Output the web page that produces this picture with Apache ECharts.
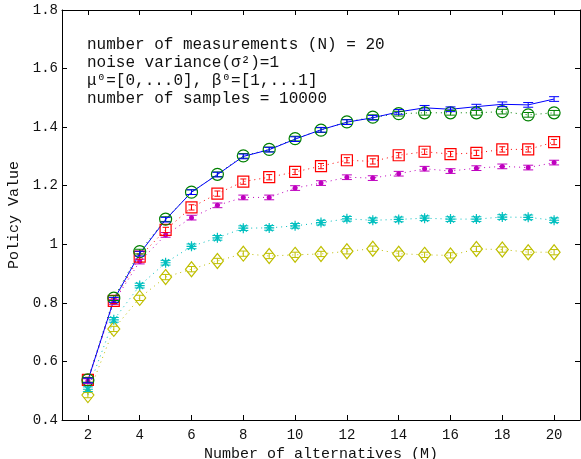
<!DOCTYPE html>
<html>
<head>
<meta charset="UTF-8">
<title>Policy Value</title>
<script src="https://cdn.jsdelivr.net/npm/echarts@6/dist/echarts.min.js"></script>
<style>
  html, body { margin: 0; padding: 0; background: #fff; }
  #main { width: 581px; height: 459px; }
</style>
</head>
<body>
<div id="main"></div>
<script type="text/javascript">
  // number of alternatives M
  var alternatives = [2, 3, 4, 5, 6, 7, 8, 9, 10, 11, 12, 13, 14, 15, 16, 17, 18, 19, 20];
  var xTicks = [2, 4, 6, 8, 10, 12, 14, 16, 18, 20];

  // policy values
  var blueVals    = [0.535, 0.810, 0.968, 1.084, 1.178, 1.238, 1.300, 1.323, 1.359, 1.391, 1.417, 1.432, 1.452, 1.466, 1.461, 1.470, 1.478, 1.476, 1.496];
  var greenVals   = [0.537, 0.816, 0.975, 1.086, 1.178, 1.239, 1.302, 1.324, 1.361, 1.390, 1.418, 1.434, 1.446, 1.449, 1.449, 1.449, 1.453, 1.442, 1.449];
  var redVals     = [0.537, 0.807, 0.958, 1.049, 1.126, 1.173, 1.214, 1.229, 1.247, 1.267, 1.287, 1.283, 1.304, 1.316, 1.308, 1.312, 1.324, 1.324, 1.349];
  var magentaVals = [0.533, 0.803, 0.941, 1.032, 1.091, 1.133, 1.160, 1.160, 1.192, 1.209, 1.229, 1.226, 1.241, 1.258, 1.250, 1.260, 1.266, 1.262, 1.279];
  var cyanVals    = [0.505, 0.742, 0.859, 0.937, 0.993, 1.022, 1.055, 1.056, 1.063, 1.074, 1.087, 1.082, 1.085, 1.089, 1.086, 1.086, 1.093, 1.092, 1.082];
  var yellowVals  = [0.485, 0.711, 0.817, 0.888, 0.915, 0.943, 0.968, 0.960, 0.964, 0.967, 0.976, 0.985, 0.968, 0.964, 0.962, 0.984, 0.982, 0.973, 0.973];

  // half widths of the error bars (roughly constant in the figure)
  var blueErr = 0.008, greenErr = 0.008, redErr = 0.009, magentaErr = 0.008, cyanErr = 0.008, yellowErr = 0.009;

  var infoLines = [
    'number of measurements (N) = 20',
    'noise variance(\u03c3\u00b2)=1',
    '\u03bc\u2070=[0,...0], \u03b2\u2070=[1,...1]',
    'number of samples = 10000'
  ];

  var FONT = '"Liberation Mono", "Courier New", monospace';

  function pairs(vals) {
    return alternatives.map(function (m, i) { return [m, vals[i]]; });
  }
  function errData(vals, e) {
    return alternatives.map(function (m, i) { return [m, vals[i], e]; });
  }

  function errorBars(vals, e, color, cap) {
    return {
      type: 'custom',
      silent: true,
      z: 3,
      data: errData(vals, e),
      renderItem: function (params, api) {
        var x = api.value(0), y = api.value(1), d = api.value(2);
        var hi = api.coord([x, y + d]);
        var lo = api.coord([x, y - d]);
        var st = { stroke: color, lineWidth: 1 };
        return {
          type: 'group',
          children: [
            { type: 'line', shape: { x1: hi[0], y1: hi[1], x2: lo[0], y2: lo[1] }, style: st },
            { type: 'line', shape: { x1: hi[0] - cap, y1: hi[1], x2: hi[0] + cap, y2: hi[1] }, style: st },
            { type: 'line', shape: { x1: lo[0] - cap, y1: lo[1], x2: lo[0] + cap, y2: lo[1] }, style: st }
          ]
        };
      }
    };
  }

  function markerLine(vals, color, symbol, size, filled, lineType) {
    return {
      type: 'line',
      data: pairs(vals),
      symbol: symbol,
      symbolSize: size,
      showAllSymbol: true,
      silent: true,
      z: 2,
      lineStyle: { color: color, width: 1, type: lineType },
      itemStyle: filled
        ? { color: color, borderWidth: 0 }
        : { color: 'transparent', borderColor: color, borderWidth: 1.2 }
    };
  }

  var starPath = 'path://M0,-5L0,5M-5,0L5,0M-3.5,-3.5L3.5,3.5M-3.5,3.5L3.5,-3.5';
  var dots = [1, 4];

  var chart = echarts.init(document.getElementById('main'));

  var option = {
    animation: false,
    backgroundColor: '#fff',
    textStyle: { fontFamily: FONT },
    grid: { left: 62, right: 1, top: 10, bottom: 39, containLabel: false, outerBoundsMode: 'none' },
    xAxis: [{
      type: 'value',
      min: 1, max: 21,
      name: 'Number of alternatives (M)',
      nameLocation: 'middle',
      nameGap: 21,
      nameTextStyle: { fontFamily: FONT, fontSize: 15, color: '#111' },
      axisLine: { show: true, onZero: false, lineStyle: { color: '#000', width: 1 } },
      axisTick: { show: true, inside: true, length: 5, customValues: xTicks, lineStyle: { color: '#000' } },
      axisLabel: { customValues: xTicks, fontFamily: FONT, fontSize: 14, color: '#111', margin: 8 },
      splitLine: { show: false }
    }, {
      type: 'value',
      position: 'top',
      min: 1, max: 21,
      axisLine: { show: true, onZero: false, lineStyle: { color: '#000', width: 1 } },
      axisTick: { show: true, inside: true, length: 5, customValues: xTicks, lineStyle: { color: '#000' } },
      axisLabel: { show: false },
      splitLine: { show: false }
    }],
    yAxis: [{
      type: 'value',
      min: 0.4, max: 1.8, interval: 0.2,
      name: 'Policy Value',
      nameLocation: 'middle',
      nameGap: 39,
      nameTextStyle: { fontFamily: FONT, fontSize: 15, color: '#111' },
      axisLine: { show: true, onZero: false, lineStyle: { color: '#000', width: 1 } },
      axisTick: { show: true, inside: true, length: 5, lineStyle: { color: '#000' } },
      axisLabel: { fontFamily: FONT, fontSize: 14, color: '#111', margin: 4 },
      splitLine: { show: false }
    }, {
      type: 'value',
      position: 'right',
      min: 0.4, max: 1.8, interval: 0.2,
      axisLine: { show: true, onZero: false, lineStyle: { color: '#000', width: 1 } },
      axisTick: { show: true, inside: true, length: 5, lineStyle: { color: '#000' } },
      axisLabel: { show: false },
      splitLine: { show: false }
    }],
    graphic: [{
      type: 'text',
      left: 87,
      top: 36,
      silent: true,
      style: {
        text: infoLines.join('\n'),
        font: '16px ' + FONT,
        fill: '#111',
        lineHeight: 18
      }
    }],
    series: [
      markerLine(yellowVals, '#bfbf00', 'diamond', [12, 15], false, dots),
      errorBars(yellowVals, yellowErr, '#bfbf00', 4),
      markerLine(cyanVals, '#00bfbf', starPath, 10, false, dots),
      errorBars(cyanVals, cyanErr, '#00bfbf', 5),
      markerLine(magentaVals, '#bf00bf', 'circle', 5, true, dots),
      errorBars(magentaVals, magentaErr, '#bf00bf', 5),
      markerLine(redVals, '#ff0000', 'rect', 11, false, dots),
      errorBars(redVals, redErr, '#ff0000', 3),
      markerLine(greenVals, '#008000', 'circle', 12, false, dots),
      errorBars(greenVals, greenErr, '#008000', 5),
      markerLine(blueVals, '#0000ff', 'none', 0, true, 'solid'),
      errorBars(blueVals, blueErr, '#0000ff', 5)
    ]
  };

  chart.setOption(option);
</script>
</body>
</html>
